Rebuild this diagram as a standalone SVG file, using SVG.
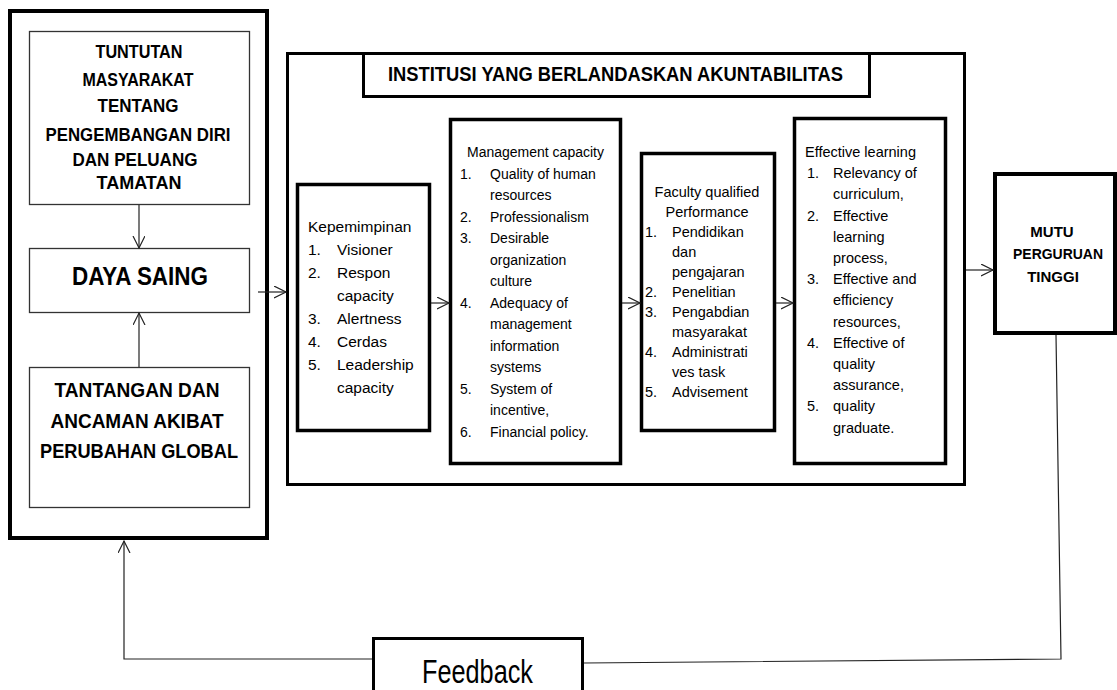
<svg xmlns="http://www.w3.org/2000/svg" width="1117" height="690" viewBox="0 0 1117 690">
<defs>
<style>
text{font-family:"Liberation Sans",Arial,sans-serif;fill:#000}
.b{font-weight:bold}
.thin{fill:#fff;stroke:#333;stroke-width:1.3}
.thick{fill:#fff;stroke:#000;stroke-width:3.5}
.ln{fill:none;stroke:#222;stroke-width:1.2}
.c{text-anchor:middle}
.s14{font-size:14px}
.s145{font-size:14.5px}
.s155{font-size:15.5px}
</style>
<marker id="ah" markerUnits="userSpaceOnUse" markerWidth="14" markerHeight="14" refX="12" refY="6" orient="auto" viewBox="0 0 14 14">
<path d="M0,0 L12,6 L0,12" fill="none" stroke="#222" stroke-width="1.2"/>
</marker>
</defs>
<rect width="1117" height="690" fill="#fff"/>

<g id="left-panel">
<rect x="10" y="11" width="257" height="527" fill="#fff" stroke="#000" stroke-width="4"/>
</g>
<g id="tuntutan">
<rect class="thin" x="29.5" y="31.5" width="220" height="173"/>
<text class="b c" font-size="18" x="139" y="58" textLength="87" lengthAdjust="spacingAndGlyphs">TUNTUTAN</text>
<text class="b c" font-size="18" x="138" y="86" textLength="111" lengthAdjust="spacingAndGlyphs">MASYARAKAT</text>
<text class="b c" font-size="18" x="138" y="112" textLength="81" lengthAdjust="spacingAndGlyphs">TENTANG</text>
<text class="b c" font-size="18" x="138" y="141" textLength="185" lengthAdjust="spacingAndGlyphs">PENGEMBANGAN DIRI</text>
<text class="b c" font-size="18" x="135" y="166" textLength="125" lengthAdjust="spacingAndGlyphs">DAN PELUANG</text>
<text class="b c" font-size="18" x="139" y="189" textLength="85" lengthAdjust="spacingAndGlyphs">TAMATAN</text>
</g>
<g id="daya-saing">
<rect class="thin" x="29.5" y="248.5" width="220" height="64"/>
<text class="b c" font-size="25" x="140" y="285" textLength="136" lengthAdjust="spacingAndGlyphs">DAYA SAING</text>
</g>
<g id="tantangan">
<rect class="thin" x="29.5" y="367.5" width="220" height="140"/>
<text class="b c" font-size="21" x="137" y="397" textLength="165" lengthAdjust="spacingAndGlyphs">TANTANGAN DAN</text>
<text class="b c" font-size="21" x="137" y="428" textLength="173" lengthAdjust="spacingAndGlyphs">ANCAMAN AKIBAT</text>
<text class="b c" font-size="21" x="139" y="458" textLength="198" lengthAdjust="spacingAndGlyphs">PERUBAHAN GLOBAL</text>
</g>

<g id="institusi">
<rect x="287.5" y="53.5" width="677" height="431" fill="#fff" stroke="#000" stroke-width="3"/>
<rect x="363.5" y="53.5" width="506" height="43" fill="#fff" stroke="#000" stroke-width="3"/>
<text class="b c" font-size="21" x="615.5" y="81" textLength="455" lengthAdjust="spacingAndGlyphs">INSTITUSI YANG BERLANDASKAN AKUNTABILITAS</text>
</g>

<g id="kepemimpinan" class="s155">
<rect class="thick" x="297.5" y="184.5" width="132" height="246"/>
<text x="308" y="232">Kepemimpinan</text>
<text x="308" y="255">1.</text><text x="337" y="255">Visioner</text>
<text x="308" y="278">2.</text><text x="337" y="278">Respon</text>
<text x="337" y="301">capacity</text>
<text x="308" y="324">3.</text><text x="337" y="324">Alertness</text>
<text x="308" y="347">4.</text><text x="337" y="347">Cerdas</text>
<text x="308" y="370">5.</text><text x="337" y="370">Leadership</text>
<text x="337" y="393">capacity</text>
</g>

<g id="management" class="s14">
<rect class="thick" x="450.5" y="119.5" width="170" height="344"/>
<text x="467" y="157">Management capacity</text>
<text x="460" y="178.5">1.</text><text x="490" y="178.5">Quality of human</text>
<text x="490" y="200">resources</text>
<text x="460" y="221.5">2.</text><text x="490" y="221.5">Professionalism</text>
<text x="460" y="243">3.</text><text x="490" y="243">Desirable</text>
<text x="490" y="264.5">organization</text>
<text x="490" y="286">culture</text>
<text x="460" y="307.5">4.</text><text x="490" y="307.5">Adequacy of</text>
<text x="490" y="329">management</text>
<text x="490" y="350.5">information</text>
<text x="490" y="372">systems</text>
<text x="460" y="393.5">5.</text><text x="490" y="393.5">System of</text>
<text x="490" y="415">incentive,</text>
<text x="460" y="436.5">6.</text><text x="490" y="436.5">Financial policy.</text>
</g>

<g id="faculty" class="s145">
<rect class="thick" x="641.5" y="153.5" width="133" height="277"/>
<text class="c" x="707" y="197">Faculty qualified</text>
<text class="c" x="707" y="217">Performance</text>
<text x="645" y="237">1.</text><text x="672" y="237">Pendidikan</text>
<text x="672" y="257">dan</text>
<text x="672" y="277">pengajaran</text>
<text x="645" y="297">2.</text><text x="672" y="297">Penelitian</text>
<text x="645" y="317">3.</text><text x="672" y="317">Pengabdian</text>
<text x="672" y="337">masyarakat</text>
<text x="645" y="357">4.</text><text x="672" y="357">Administrati</text>
<text x="672" y="377">ves task</text>
<text x="645" y="397">5.</text><text x="672" y="397">Advisement</text>
</g>

<g id="effective" class="s145">
<rect class="thick" x="794.5" y="118.5" width="151" height="345"/>
<text x="805" y="157">Effective learning</text>
<text x="807" y="178.2">1.</text><text x="833" y="178.2">Relevancy of</text>
<text x="833" y="199.4">curriculum,</text>
<text x="807" y="220.6">2.</text><text x="833" y="220.6">Effective</text>
<text x="833" y="241.8">learning</text>
<text x="833" y="263">process,</text>
<text x="807" y="284.2">3.</text><text x="833" y="284.2">Effective and</text>
<text x="833" y="305.4">efficiency</text>
<text x="833" y="326.6">resources,</text>
<text x="807" y="347.8">4.</text><text x="833" y="347.8">Effective of</text>
<text x="833" y="369">quality</text>
<text x="833" y="390.2">assurance,</text>
<text x="807" y="411.4">5.</text><text x="833" y="411.4">quality</text>
<text x="833" y="432.6">graduate.</text>
</g>

<g id="mutu">
<rect x="995" y="174" width="120" height="159" fill="#fff" stroke="#000" stroke-width="4"/>
<text class="b c" font-size="15" x="1052" y="237">MUTU</text>
<text class="b c" font-size="15" x="1058" y="259" textLength="90" lengthAdjust="spacingAndGlyphs">PERGURUAN</text>
<text class="b c" font-size="15" x="1053" y="282">TINGGI</text>
</g>

<g id="feedback">
<rect x="373.5" y="638.5" width="209" height="60" fill="#fff" stroke="#000" stroke-width="3"/>
<text class="c" font-size="34" x="477.5" y="683" textLength="111" lengthAdjust="spacingAndGlyphs">Feedback</text>
</g>

<g id="connectors">
<line class="ln" x1="139" y1="205" x2="139" y2="248" marker-end="url(#ah)"/>
<line class="ln" x1="139" y1="367" x2="139" y2="313" marker-end="url(#ah)"/>
<line class="ln" x1="258" y1="292" x2="286" y2="292" marker-end="url(#ah)"/>
<line class="ln" x1="431" y1="303" x2="449" y2="303" marker-end="url(#ah)"/>
<line class="ln" x1="622" y1="303" x2="640" y2="303" marker-end="url(#ah)"/>
<line class="ln" x1="776" y1="303" x2="793" y2="303" marker-end="url(#ah)"/>
<line class="ln" x1="966" y1="270" x2="993" y2="270" marker-end="url(#ah)"/>
<polyline class="ln" points="372,659 124,659 124,541" marker-end="url(#ah)"/>
<polyline class="ln" points="584,663 1061,659 1056,335"/>
</g>
</svg>
